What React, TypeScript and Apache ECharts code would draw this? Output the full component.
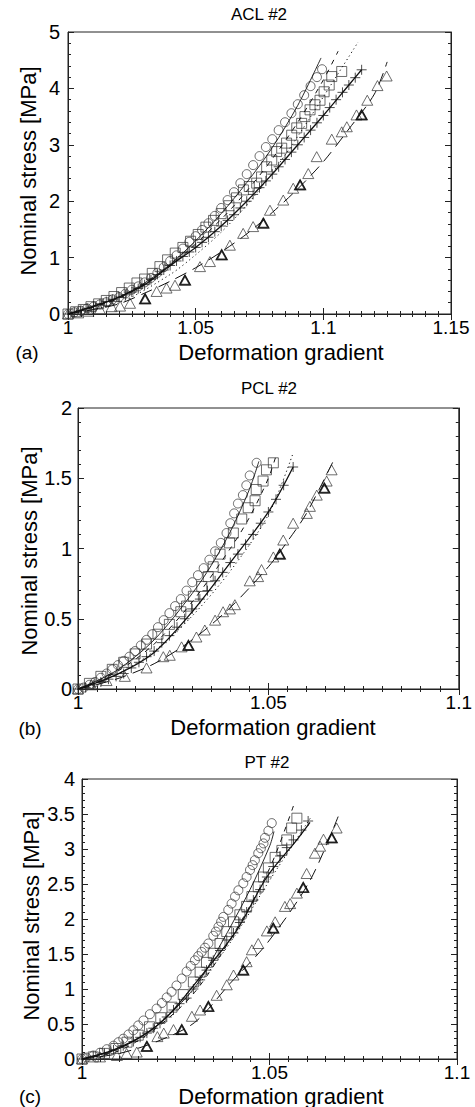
import React, { useEffect, useRef } from "react";
import * as echarts from "echarts";

// ---------- Panel (a) ACL #2 ----------
const aclCircles = [
  [1.0, 0.0], [1.0025, 0.03], [1.005, 0.06], [1.0075, 0.1], [1.01, 0.13], [1.0125, 0.17], [1.015, 0.21],
  [1.0175, 0.26], [1.02, 0.3], [1.0225, 0.36], [1.025, 0.43], [1.0275, 0.49], [1.03, 0.56], [1.0325, 0.64],
  [1.035, 0.73], [1.0375, 0.83], [1.04, 0.94], [1.0425, 1.04], [1.045, 1.16], [1.0475, 1.28], [1.05, 1.38],
  [1.0525, 1.49], [1.055, 1.61], [1.0575, 1.74], [1.06, 1.88], [1.0625, 2.02], [1.065, 2.16], [1.0675, 2.32],
  [1.07, 2.48], [1.0725, 2.64], [1.075, 2.8], [1.0775, 2.96], [1.08, 3.1], [1.0825, 3.26], [1.085, 3.4],
  [1.0875, 3.56], [1.09, 3.72], [1.0925, 3.88], [1.095, 4.04], [1.0975, 4.2], [1.0995, 4.34],
];
const aclSquares = [
  [1.0, 0.0], [1.003, 0.04], [1.006, 0.08], [1.009, 0.13], [1.012, 0.18], [1.015, 0.24], [1.018, 0.31],
  [1.021, 0.38], [1.024, 0.46], [1.027, 0.55], [1.03, 0.62], [1.033, 0.72], [1.036, 0.84], [1.039, 0.96],
  [1.042, 1.08], [1.045, 1.18], [1.048, 1.29], [1.051, 1.41], [1.054, 1.54], [1.057, 1.66], [1.06, 1.78],
  [1.063, 1.92], [1.066, 2.06], [1.0687, 2.2], [1.071, 2.26], [1.0739, 2.32], [1.0758, 2.43], [1.0778, 2.61],
  [1.0798, 2.73], [1.0817, 2.88], [1.0837, 2.94], [1.0856, 3.03], [1.0876, 3.17], [1.0896, 3.3], [1.0915, 3.38],
  [1.0928, 3.5], [1.0948, 3.62], [1.0967, 3.71], [1.0987, 3.79], [1.1003, 3.94], [1.1023, 4.06], [1.1033, 4.21],
  [1.1072, 4.3],
];
const aclPluses = [
  [1.0, 0.0], [1.0025, 0.03], [1.005, 0.06], [1.0075, 0.1], [1.01, 0.14], [1.0125, 0.18], [1.015, 0.22],
  [1.0175, 0.26], [1.02, 0.3], [1.0225, 0.34], [1.025, 0.39], [1.0275, 0.45], [1.03, 0.52], [1.0325, 0.61],
  [1.035, 0.7], [1.0375, 0.78], [1.04, 0.86], [1.0425, 0.94], [1.045, 1.02], [1.0475, 1.1], [1.05, 1.18],
  [1.0525, 1.27], [1.055, 1.36], [1.0575, 1.46], [1.06, 1.56], [1.0625, 1.66], [1.065, 1.76], [1.0675, 1.88],
  [1.07, 2.0], [1.0725, 2.12], [1.075, 2.24], [1.0775, 2.36], [1.08, 2.48], [1.0825, 2.61], [1.085, 2.74],
  [1.0875, 2.87], [1.09, 3.0], [1.0925, 3.13], [1.095, 3.26], [1.0975, 3.39], [1.1, 3.52], [1.1025, 3.66],
  [1.105, 3.8], [1.1075, 3.93], [1.11, 4.06], [1.1125, 4.19], [1.115, 4.33],
];
const aclTriangles = [
  [1.0, 0.0], [1.004, 0.02], [1.008, 0.05], [1.0125, 0.09], [1.0171, 0.13], [1.0204, 0.14], [1.0243, 0.19],
  [1.0302, 0.27], [1.0347, 0.4], [1.0386, 0.46], [1.0419, 0.51], [1.0458, 0.6], [1.0517, 0.84], [1.0556, 0.93],
  [1.0602, 1.05], [1.0634, 1.22], [1.0686, 1.43], [1.0725, 1.55], [1.0765, 1.61], [1.0791, 1.84], [1.0843, 2.02],
  [1.0882, 2.23], [1.0909, 2.29], [1.0941, 2.49], [1.0974, 2.79], [1.1033, 3.1], [1.1072, 3.23], [1.1092, 3.32],
  [1.113, 3.53], [1.115, 3.53], [1.1172, 3.79], [1.1212, 4.05], [1.1248, 4.22],
];
const aclBoldTriangles = [[1.0302, 0.27], [1.0458, 0.6], [1.0602, 1.05], [1.0765, 1.61], [1.0909, 2.29], [1.115, 3.53]];
const aclFitSolid = [[1.0, 0.0], [1.01, 0.13], [1.02, 0.3], [1.03, 0.55], [1.04, 0.88], [1.05, 1.3], [1.06, 1.78], [1.07, 2.33], [1.08, 2.95], [1.09, 3.7], [1.0991, 4.54]];
const aclFitDash = [[1.0, 0.0], [1.02, 0.28], [1.04, 0.85], [1.06, 1.68], [1.07, 2.18], [1.08, 2.75], [1.09, 3.4], [1.1, 4.15], [1.1058, 4.66]];
const aclFitDot = [[1.0, 0.0], [1.02, 0.2], [1.04, 0.7], [1.05, 1.05], [1.06, 1.45], [1.07, 1.93], [1.08, 2.5], [1.09, 3.15], [1.1, 3.85], [1.1136, 4.82]];
const aclFitPlus = [[1.0, 0.0], [1.01, 0.14], [1.02, 0.3], [1.03, 0.52], [1.04, 0.86], [1.05, 1.18], [1.06, 1.56], [1.07, 2.0], [1.08, 2.48], [1.09, 3.0], [1.1, 3.52], [1.11, 4.06], [1.115, 4.33]];
const aclFitLongDash = [[1.0, 0.0], [1.01, 0.08], [1.02, 0.18], [1.03, 0.37], [1.04, 0.58], [1.05, 0.82], [1.06, 1.1], [1.07, 1.42], [1.08, 1.8], [1.09, 2.22], [1.1, 2.7], [1.11, 3.28], [1.12, 3.9], [1.125, 4.47]];

// ---------- Panel (b) PCL #2 ----------
const pclCircles = [
  [1.0, 0.0], [1.0015, 0.01], [1.003, 0.03], [1.0045, 0.05], [1.006, 0.08], [1.0075, 0.11], [1.009, 0.14],
  [1.0105, 0.17], [1.012, 0.2], [1.0135, 0.23], [1.015, 0.27], [1.0165, 0.31], [1.018, 0.35], [1.0195, 0.39],
  [1.021, 0.44], [1.0225, 0.49], [1.024, 0.54], [1.0255, 0.59], [1.027, 0.64], [1.0285, 0.7], [1.03, 0.76],
  [1.0315, 0.81], [1.033, 0.86], [1.0345, 0.92], [1.036, 0.98], [1.0375, 1.04], [1.039, 1.11], [1.04, 1.18],
  [1.041, 1.25], [1.042, 1.32], [1.0433, 1.38], [1.0442, 1.45], [1.0451, 1.52], [1.0469, 1.61],
];
const pclSquares = [
  [1.0, 0.0], [1.003, 0.04], [1.006, 0.09], [1.009, 0.14], [1.012, 0.19], [1.015, 0.25], [1.018, 0.32],
  [1.021, 0.39], [1.024, 0.46], [1.027, 0.55], [1.0285, 0.59], [1.0303, 0.66], [1.0325, 0.73], [1.0342, 0.8],
  [1.0355, 0.87], [1.0373, 0.96], [1.0398, 1.04], [1.0408, 1.11], [1.043, 1.21], [1.0447, 1.29], [1.0465, 1.34],
  [1.0468, 1.42], [1.0486, 1.48], [1.0495, 1.56], [1.0513, 1.61],
];
const pclPluses = [
  [1.0, 0.0], [1.002, 0.01], [1.004, 0.03], [1.006, 0.05], [1.008, 0.07], [1.01, 0.09], [1.012, 0.11],
  [1.014, 0.15], [1.016, 0.19], [1.018, 0.23], [1.02, 0.27], [1.022, 0.33], [1.024, 0.38], [1.026, 0.44],
  [1.028, 0.5], [1.03, 0.57], [1.032, 0.64], [1.034, 0.7], [1.036, 0.77], [1.038, 0.83], [1.04, 0.9],
  [1.042, 0.96], [1.044, 1.03], [1.046, 1.1], [1.048, 1.18], [1.05, 1.26], [1.052, 1.35], [1.054, 1.45],
  [1.0565, 1.58],
];
const pclTriangles = [
  [1.0, 0.0], [1.0035, 0.03], [1.0075, 0.06], [1.0123, 0.09], [1.018, 0.15], [1.0224, 0.23], [1.0241, 0.24],
  [1.0272, 0.3], [1.029, 0.31], [1.0311, 0.37], [1.0333, 0.42], [1.036, 0.49], [1.0381, 0.55], [1.0399, 0.57],
  [1.0412, 0.6], [1.0451, 0.77], [1.0473, 0.8], [1.0482, 0.85], [1.0513, 0.94], [1.053, 0.96], [1.0539, 1.06],
  [1.0565, 1.18], [1.0601, 1.25], [1.0609, 1.3], [1.0627, 1.38], [1.0647, 1.43], [1.0653, 1.48], [1.0666, 1.56],
];
const pclBoldTriangles = [[1.029, 0.31], [1.053, 0.96], [1.0647, 1.43]];
const pclFitSolid = [[1.0, 0.0], [1.01, 0.13], [1.02, 0.35], [1.03, 0.68], [1.035, 0.88], [1.04, 1.12], [1.045, 1.42], [1.0475, 1.62]];
const pclFitDash = [[1.0, 0.0], [1.01, 0.12], [1.02, 0.32], [1.03, 0.62], [1.04, 1.0], [1.045, 1.22], [1.05, 1.5], [1.052, 1.66]];
const pclFitDot = [[1.0, 0.0], [1.01, 0.1], [1.02, 0.27], [1.03, 0.52], [1.04, 0.84], [1.05, 1.24], [1.0565, 1.68]];
const pclFitPlus = [[1.0, 0.0], [1.01, 0.1], [1.02, 0.26], [1.03, 0.55], [1.04, 0.9], [1.05, 1.26], [1.0565, 1.58]];
const pclFitLongDash = [[1.0, 0.0], [1.01, 0.07], [1.02, 0.18], [1.03, 0.35], [1.04, 0.58], [1.05, 0.87], [1.055, 1.05], [1.06, 1.25], [1.067, 1.62]];

// ---------- Panel (c) PT #2 ----------
const ptCircles = [
  [1.0, 0.0], [1.0012, 0.02], [1.003, 0.05], [1.0048, 0.09], [1.0066, 0.14], [1.0084, 0.19], [1.0097, 0.24],
  [1.011, 0.29], [1.0124, 0.35], [1.0137, 0.41], [1.015, 0.48], [1.0164, 0.55], [1.0181, 0.64], [1.0199, 0.72],
  [1.0213, 0.8], [1.0226, 0.88], [1.0239, 0.96], [1.0252, 1.05], [1.0266, 1.15], [1.0279, 1.25], [1.029, 1.33],
  [1.0301, 1.41], [1.031, 1.47], [1.0319, 1.53], [1.0328, 1.59], [1.0337, 1.65], [1.035, 1.76], [1.0357, 1.82],
  [1.0364, 1.89], [1.0371, 1.96], [1.0377, 2.03], [1.039, 2.13], [1.0399, 2.22], [1.0408, 2.32], [1.0417, 2.41],
  [1.043, 2.51], [1.0439, 2.6], [1.0448, 2.7], [1.0455, 2.77], [1.0461, 2.84], [1.047, 2.94], [1.0477, 3.01],
  [1.0484, 3.08], [1.0488, 3.16], [1.0497, 3.26], [1.0506, 3.37],
];
const ptSquares = [
  [1.0, 0.0], [1.003, 0.03], [1.006, 0.08], [1.009, 0.15], [1.012, 0.24], [1.015, 0.34], [1.018, 0.46],
  [1.021, 0.59], [1.024, 0.74], [1.027, 0.92], [1.0297, 1.1], [1.0315, 1.24], [1.0332, 1.38], [1.035, 1.51],
  [1.0368, 1.65], [1.0386, 1.82], [1.0404, 1.96], [1.0421, 2.06], [1.0439, 2.18], [1.0453, 2.32], [1.047, 2.46],
  [1.0484, 2.6], [1.0497, 2.73], [1.0515, 2.88], [1.0533, 2.98], [1.0546, 3.13], [1.0559, 3.3], [1.0573, 3.44],
];
const ptPluses = [
  [1.0, 0.0], [1.003, 0.04], [1.006, 0.08], [1.0084, 0.13], [1.011, 0.19], [1.0137, 0.25], [1.0155, 0.31],
  [1.0173, 0.37], [1.019, 0.44], [1.0208, 0.51], [1.0226, 0.6], [1.0244, 0.7], [1.026, 0.79], [1.0279, 0.87],
  [1.0297, 1.0], [1.0315, 1.13], [1.0332, 1.27], [1.035, 1.41], [1.0368, 1.55], [1.0386, 1.7], [1.0404, 1.8],
  [1.0421, 1.95], [1.0439, 2.1], [1.0457, 2.27], [1.0475, 2.42], [1.0493, 2.6], [1.051, 2.75], [1.0528, 2.9],
  [1.0546, 3.02], [1.0564, 3.13], [1.0585, 3.27], [1.0603, 3.4],
];
const ptTriangles = [
  [1.0, 0.0], [1.0048, 0.03], [1.0093, 0.05], [1.0119, 0.08], [1.0146, 0.1], [1.0173, 0.18], [1.0201, 0.32],
  [1.0218, 0.37], [1.0244, 0.42], [1.0266, 0.42], [1.0293, 0.61], [1.0315, 0.7], [1.0337, 0.75], [1.0359, 0.91],
  [1.0386, 1.06], [1.0404, 1.2], [1.043, 1.27], [1.0439, 1.39], [1.0453, 1.56], [1.047, 1.65], [1.0493, 1.83],
  [1.051, 1.87], [1.0515, 1.96], [1.0541, 2.18], [1.0555, 2.22], [1.0573, 2.37], [1.059, 2.45], [1.0599, 2.65],
  [1.0621, 2.94], [1.0635, 3.04], [1.0644, 3.14], [1.0666, 3.16], [1.0679, 3.3],
];
const ptBoldTriangles = [[1.0173, 0.18], [1.0266, 0.42], [1.0337, 0.75], [1.043, 1.27], [1.051, 1.87], [1.059, 2.45], [1.0666, 3.16]];
const ptFitSolid = [[1.0, 0.0], [1.01, 0.15], [1.02, 0.48], [1.03, 1.02], [1.0368, 1.62], [1.0448, 2.42], [1.0501, 3.05], [1.0512, 3.25]];
const ptFitDash = [[1.0, 0.0], [1.01, 0.12], [1.02, 0.45], [1.03, 0.95], [1.04, 1.75], [1.05, 2.72], [1.0568, 3.68]];
const ptFitDot = [[1.0, 0.0], [1.01, 0.15], [1.02, 0.5], [1.03, 1.0], [1.04, 1.7], [1.05, 2.55], [1.061, 3.45]];
const ptFitPlus = [[1.0, 0.0], [1.0084, 0.13], [1.0173, 0.37], [1.0235, 0.65], [1.0323, 1.22], [1.0413, 1.84], [1.0493, 2.6], [1.0573, 3.13], [1.0608, 3.38]];
const ptFitLongDash = [[1.0, 0.0], [1.01, 0.08], [1.02, 0.25], [1.03, 0.52], [1.0395, 1.08], [1.0493, 1.65], [1.0608, 2.55], [1.0688, 3.53]];

// ---------- tick / label settings ----------
const titles = ["ACL #2", "PCL #2", "PT #2"];
const panelLetters = ["(a)", "(b)", "(c)"];
const xMaxes = [1.15, 1.1, 1.1];
const yMaxes = [5, 2, 4];
const yIntervals = [1, 0.5, 0.5];
const yMinorSplits = [5, 5, 5];
const xLabel = "Deformation gradient";
const yLabel = "Nominal stress [MPa]";

const PLUS = "path://M5,0L5,10M0,5L10,5";
const FONT = "'Liberation Sans', Arial, Helvetica, sans-serif";

export default function App() {
  const ref = useRef<HTMLDivElement>(null);
  useEffect(() => {
    document.body.style.margin = "0";
    const chart = echarts.init(ref.current!, null, { renderer: "svg" });

    const grids = [
      { left: 68, top: 32, width: 383, height: 282 },
      { left: 78, top: 408, width: 381, height: 281 },
      { left: 82, top: 779, width: 375, height: 280 },
    ];
    const yLabelMargins = [8, 6, 7];
    const layout = [
      { title: [259, 14], xname: [281, 352], yname: [28, 171], letter: [27, 352] },
      { title: [269, 388], xname: [273, 727], yname: [29, 551], letter: [30, 728] },
      { title: [267, 762], xname: [281, 1096], yname: [31, 916], letter: [30, 1096] },
    ];
    const panelData = [
      [aclCircles, aclSquares, aclPluses, aclTriangles, aclBoldTriangles, aclFitSolid, aclFitDash, aclFitDot, aclFitPlus, aclFitLongDash],
      [pclCircles, pclSquares, pclPluses, pclTriangles, pclBoldTriangles, pclFitSolid, pclFitDash, pclFitDot, pclFitPlus, pclFitLongDash],
      [ptCircles, ptSquares, ptPluses, ptTriangles, ptBoldTriangles, ptFitSolid, ptFitDash, ptFitDot, ptFitPlus, ptFitLongDash],
    ];

    const axisLine = { show: true, lineStyle: { color: "#222", width: 1 } };
    const tick = { show: true, inside: true, length: 6, lineStyle: { color: "#222", width: 1 } };
    const minor = (n: number) => ({ show: true, splitNumber: n, length: 3, lineStyle: { color: "#222", width: 1 } });

    const xAxis: any[] = [];
    const yAxis: any[] = [];
    for (let i = 0; i < 3; i++) {
      xAxis.push({
        type: "value", gridIndex: i, min: 1, max: xMaxes[i], interval: 0.05, position: "bottom",
        axisLine, axisTick: tick, minorTick: minor(10), splitLine: { show: false },
        axisLabel: { show: true, color: "#000", fontSize: 19, fontFamily: FONT, margin: 4, showMaxLabel: true, showMinLabel: true },
      });
    }
    for (let i = 0; i < 3; i++) {
      xAxis.push({
        type: "value", gridIndex: i, min: 1, max: xMaxes[i], interval: 0.05, position: "top",
        axisLine, axisTick: tick, minorTick: minor(10), splitLine: { show: false }, axisLabel: { show: false },
      });
    }
    for (let i = 0; i < 3; i++) {
      yAxis.push({
        type: "value", gridIndex: i, min: 0, max: yMaxes[i], interval: yIntervals[i], position: "left",
        axisLine, axisTick: tick, minorTick: minor(yMinorSplits[i]), splitLine: { show: false },
        axisLabel: { show: true, color: "#000", fontSize: 20, fontFamily: FONT, margin: yLabelMargins[i] },
      });
    }
    for (let i = 0; i < 3; i++) {
      yAxis.push({
        type: "value", gridIndex: i, min: 0, max: yMaxes[i], interval: yIntervals[i], position: "right",
        axisLine, axisTick: tick, minorTick: minor(yMinorSplits[i]), splitLine: { show: false }, axisLabel: { show: false },
      });
    }

    const hollow = (w: number) => ({ color: "rgba(0,0,0,0)", borderColor: "#333", borderWidth: w });
    const series: any[] = [];
    for (let i = 0; i < 3; i++) {
      const [cir, sq, pl, tri, btri, fS, fD, fDot, fP, fLD] = panelData[i];
      const ax = { xAxisIndex: i, yAxisIndex: i };
      series.push({ type: "scatter", ...ax, data: cir, symbol: "circle", symbolSize: 9, itemStyle: hollow(0.9), z: 2 });
      series.push({ type: "scatter", ...ax, data: sq, symbol: "rect", symbolSize: 10, itemStyle: hollow(0.9), z: 2 });
      series.push({ type: "scatter", ...ax, data: pl, symbol: PLUS, symbolSize: 10, itemStyle: { color: "rgba(0,0,0,0)", borderColor: "#222", borderWidth: 1 }, z: 2 });
      series.push({ type: "scatter", ...ax, data: tri, symbol: "triangle", symbolSize: [11, 10], itemStyle: hollow(0.9), z: 2 });
      series.push({ type: "scatter", ...ax, data: btri, symbol: "triangle", symbolSize: [10, 9], itemStyle: { color: "rgba(0,0,0,0)", borderColor: "#000", borderWidth: 1.8 }, z: 3 });
      const ln = (data: any, type: any, width = 1) => ({
        type: "line", ...ax, data, symbol: "none", showSymbol: false, smooth: 0.3, z: 4,
        lineStyle: { color: "#111", width, type },
      });
      series.push(ln(fS, "solid", 0.9));
      series.push(ln(fD, [5, 6], 1));
      series.push(ln(fDot, [1.2, 3], 1));
      series.push(ln(fP, "solid", 1.3));
      series.push(ln(fLD, [12, 7], 1));
    }

    const graphic: any[] = [];
    for (let i = 0; i < 3; i++) {
      const L = layout[i];
      graphic.push({ type: "text", x: L.title[0], y: L.title[1], style: { text: titles[i], fontSize: 17, fontFamily: FONT, fill: "#000", align: "center", verticalAlign: "middle" } });
      graphic.push({ type: "text", x: L.xname[0], y: L.xname[1], style: { text: xLabel, fontSize: 22, fontFamily: FONT, fill: "#000", align: "center", verticalAlign: "middle" } });
      graphic.push({ type: "text", x: L.yname[0], y: L.yname[1], rotation: Math.PI / 2, style: { text: yLabel, fontSize: 22, fontFamily: FONT, fill: "#000", align: "center", verticalAlign: "middle" } });
      graphic.push({ type: "text", x: L.letter[0], y: L.letter[1], style: { text: panelLetters[i], fontSize: 19, fontFamily: FONT, fill: "#000", align: "center", verticalAlign: "middle" } });
    }

    chart.setOption({
      animation: false,
      backgroundColor: "#fff",
      grid: grids.map((g) => ({ ...g, show: true, borderColor: "#222", borderWidth: 1, backgroundColor: "rgba(0,0,0,0)" })),
      xAxis,
      yAxis,
      series,
      graphic,
    });
    return () => chart.dispose();
  }, []);
  return <div ref={ref} style={{ width: 475, height: 1107 }} />;
}
